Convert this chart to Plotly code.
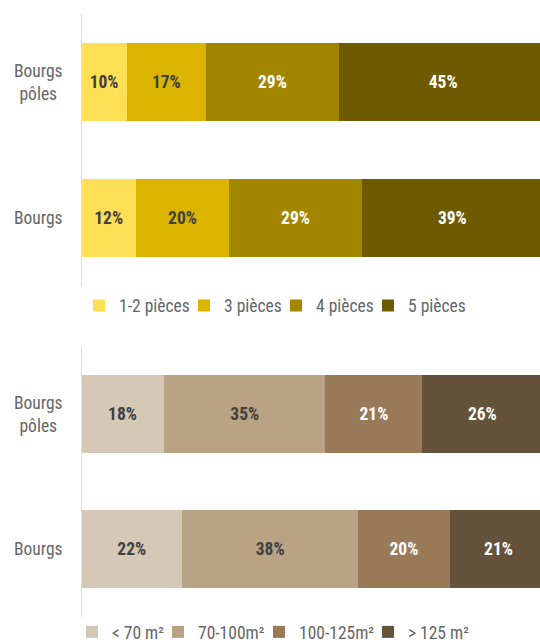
import plotly.graph_objects as go

# Categories (top row first)
categories = ["Bourgs pôles", "Bourgs"]
category_labels = ["Bourgs<br>pôles", "Bourgs"]

# Number of rooms
rooms_series = ["1-2 pièces", "3 pièces", "4 pièces", "5 pièces"]
rooms_values = [
    [10, 12],
    [17, 20],
    [29, 29],
    [45, 39],
]
rooms_colors = ["#FFDF55", "#DBB400", "#A38600", "#6E5A00"]
rooms_text_colors = ["#404040", "#404040", "#FFFFFF", "#FFFFFF"]

# Living area
area_series = ["< 70 m²", "70-100m²", "100-125m²", "> 125 m²"]
area_values = [
    [18, 22],
    [35, 38],
    [21, 20],
    [26, 21],
]
area_colors = ["#D5C8B6", "#BAA284", "#997A58", "#64533A"]
area_text_colors = ["#404040", "#404040", "#FFFFFF", "#FFFFFF"]

# Left edge (px) of each legend swatch, one row per chart
rooms_legend_px = [93, 198, 290, 382]
area_legend_px = [86, 172, 273, 382]

FONT = "Roboto Condensed, Liberation Sans Narrow, DejaVu Sans Condensed, Roboto, sans-serif"
W, H = 540, 642
FS = 17.5


def py(px):
    """pixel row from the top -> paper y"""
    return 1 - px / H


def px_x(px):
    return px / W


fig = go.Figure()
legend_layouts = {}
legend_idx = [0]


def add_group(series, values, colors, text_colors, xa, ya, legend_px, legend_row):
    for name, vals, col, tcol, lx in zip(series, values, colors, text_colors, legend_px):
        legend_idx[0] += 1
        key = "legend" if legend_idx[0] == 1 else f"legend{legend_idx[0]}"
        fig.add_trace(go.Bar(
            name=name,
            y=categories,
            x=vals,
            orientation="h",
            marker=dict(color=col, line=dict(width=0)),
            text=[f"{v}%" for v in vals],
            textposition="inside",
            insidetextanchor="middle",
            textangle=0,
            textfont=dict(family=FONT, size=FS, color=tcol, weight="bold"),
            xaxis=xa,
            yaxis=ya,
            legend=key,
            showlegend=True,
            hoverinfo="skip",
        ))
        # swatch sits 14 px in from the legend box edge
        legend_layouts[key] = dict(
            orientation="h",
            x=px_x(lx - 14), xanchor="left",
            y=py(legend_row), yanchor="middle",
            font=dict(family=FONT, size=FS, color="#666666"),
            itemwidth=30,
            borderwidth=0,
            bgcolor="rgba(0,0,0,0)",
        )


add_group(rooms_series, rooms_values, rooms_colors, rooms_text_colors, "x", "y",
          rooms_legend_px, 305.5)
add_group(area_series, area_values, area_colors, area_text_colors, "x2", "y2",
          area_legend_px, 632)

x_domain = [px_x(81), 1.0]
xaxis_common = dict(range=[0, 99.5], visible=False, fixedrange=True)
yaxis_common = dict(
    categoryorder="array",
    categoryarray=categories[::-1],
    showticklabels=False,
    showline=True,
    linecolor="#DDDDDD",
    linewidth=1,
    showgrid=False,
    zeroline=False,
    ticks="",
    fixedrange=True,
)

fig.update_layout(
    width=W,
    height=H,
    showlegend=True,
    margin=dict(l=0, r=0, t=0, b=0, autoexpand=False),
    paper_bgcolor="white",
    plot_bgcolor="white",
    barmode="stack",
    bargap=0.426,
    font=dict(family=FONT, size=FS, color="#666666"),
    xaxis=dict(domain=x_domain, anchor="y", **xaxis_common),
    yaxis=dict(domain=[py(286), py(14)], anchor="free", position=x_domain[0], **yaxis_common),
    xaxis2=dict(domain=x_domain, anchor="y2", **xaxis_common),
    yaxis2=dict(domain=[py(616.5), py(346.5)], anchor="free", position=x_domain[0], **yaxis_common),
    **legend_layouts,
)

# Category labels, centred to the left of each axis
for ya in ["y", "y2"]:
    for cat, label in zip(categories, category_labels):
        fig.add_annotation(
            text=label,
            xref="paper", x=px_x(39), xanchor="center",
            yref=ya, y=cat, yanchor="middle",
            showarrow=False,
            align="center",
            font=dict(family=FONT, size=FS, color="#666666"),
        )

fig.write_html("out.html")
